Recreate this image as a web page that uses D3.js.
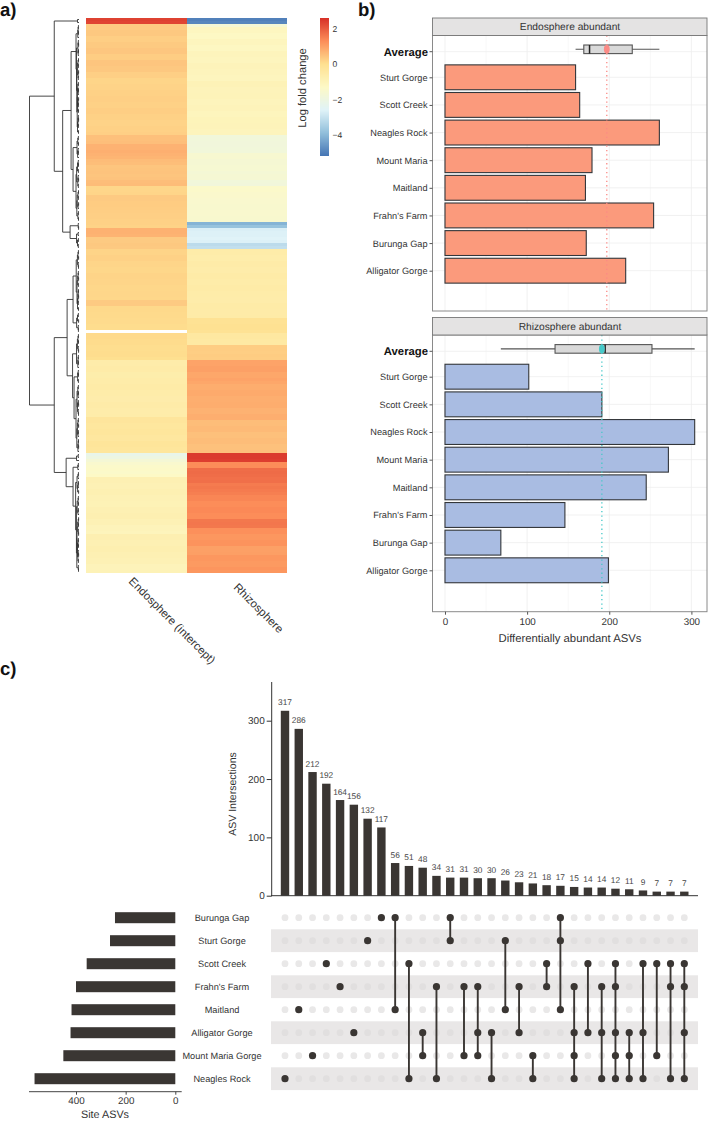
<!DOCTYPE html>
<html>
<head>
<meta charset="utf-8">
<script src="https://d3js.org/d3.v7.min.js"></script>
<style>
  body { margin: 0; background: #fff; }
  text { font-family: "Liberation Sans", Arial, sans-serif; fill: #333; text-rendering: geometricPrecision; }
</style>
</head>
<body>
<svg id="fig" width="709" height="1129"></svg>
<script>
// ---- panel a: heatmap rows, top to bottom
const heatColumns = ["Endosphere (intercept)", "Rhizosphere"];
const endoLfc = [2.35,2.3,
  .32,.32,.38,.38,.28,.28,.35,.35,.4,.4,.3,.3,.42,.42,.38,.38,.27,.27,
  .17,.17,.2,.2,.23,.23,.26,.26,.23,.23,.28,.28,.23,.23,.2,.2,.23,.23,.26,
  .5,.5,.53, .72,.72,.76,.72,.68, .56,.54, .42,.44,.45,.42,.45, .55,.57, .15,.15,.17,
  .34,.34,.32,.32,.3,.28,.26,.26,.23,.23,.21, .74,.74,.7, .34,.34,.38,.36,
  .19,.19,.23,.23,.17,.17,.14,.14,.19,.19,.17,.17,.14,.14,.15,.15,.14,.34,.34,.11,.11,.09,.09,.08,.08,.05,.05,
  null,
  .09,.09,.06,.06,.03,.03,.05,.05,0,
  -.62,-.62,-.58,-.58,-.66,-.66,-.6,-.6,-.55,-.55,-.6,-.6,-.64,-.64,-.58,-.58,-.62,-.62,-.6,
  -.28,-.28,-.34,-.34,-.3,-.3,-.36,-.36,-.24,-.24,-.3,-.3,
  -2.2,-2,-1.7, -1.5,-1.4,-1.35,-1.4,-1.3,
  -.85,-.85,-.9,-.9,-.82,-.82,-.88,-.88,-.92,-.92,-.85,-.85,-.8,-.8,-.9,-.9,-1,-1,-1.05,-.8,-.8,-.85,-.85,-.78,-.78,-.85,-.85,-.9,-.9,-1,-1,-.95];
const rhizoLfc = [-5,-4.9,
  -1.7,-1.15,-1.15,-1.25,-1.25,-1.1,-1.1,-1.2,-1.2,-1.05,-1.05,-1.1,-1.1,-1,-1,-1.05,-1.05,-1.1,-1.1,
  -.95,-.95,-1,-1,-.98,-.98,-1.05,-1.05,-1,-1,-1.08,-1.08,-1.02,-1.02,-1,-1,-1.05,-1.05,
  -1.82,-1.82,-1.85,-1.85,-1.82,-1.82, -1.55,-1.55, -1.65,-1.65,-1.62,-1.62,-1.7,-1.65,-1.65, -1.82,-1.85,
  -1.4,-1.4,-1.45,-1.45,-1.5,-1.5,-1.52,-1.52,-1.5,-1.5,-1.52,-1.52,
  -4.1,-3.8, -2.7,-2.65,-2.65,-2.6,-2.65, -3.2,-3.1,
  -.6,-.6,-.65,-.65,-.58,-.58,-.62,-.62,-.55,-.55,-.6,-.6,-.56,-.56,-.6,-.6,-.62,-.62,-.55,-.55,-.58,-.58,-.55,
  -.1,-.1,-.05,-.05,-.1, -.4,-.4,-.45,-.45, .3,.3,.28,.32,.3,
  .95,.95,1,1,.9,.9,.95,.9, .8,.8,.85,.85,.78,.78,.8,.8,.72,.72,.78,.78,
  .55,.55,.6,.6,.5,.5,.55,.55,.48,.48,.5,
  2.45,2.45,2.4, 1.3,1.3, 1.75,1.78,1.75,1.7,1.72, 1.55,1.6,1.55,1.5,
  1.4,1.4,1.3,1.3,1.35,1.35,1.3,1.3, 1.6,1.62,1.6, 1.25,1.25,1.15,1.15,1.2,1.2, 1,1,1.02, 1.15,1.15,1.1,1.1,1.18,1.15];
// merge height between each row and the next one, this fixes the whole dendrogram
const mergeHeights = [1.5,25,
  .6,.9,.5,1.2,3, .7,.4,1.1,.5,.8,2.5, .5,1,.6,1.4,.4,.9,.7,2.2,
  .6,1.2,.5,.8,1.6,.4,.9,.6,1.3,.5,1.8,.7,.4,1,.6,1.5,.5,8,
  .7,1.2,.5,2,.9,.6,1.4,6,
  .8,.5,1.5,.6,2.4,.9,.4,1.2,.7,3,.5,1,.6,1.8,.4,.9,2.2,.6,1.1,.5,16.5,
  .8,.4,9, .9,2.5,.6,1.5,.7,50,
  .6,1,.4,1.6,.8,.5,2.8,.7,.9,.4,1.3,.6,2,.5,.8,.4,1.1,.7,1.5,.5,6,
  .7,1.5,.4,2.4,.8,.6,12,
  .6,1,.5,1.6,.8,.4,2.5,.7,.9,.5,1.2,6.5,
  .8,.5,1.4,.6,5,
  .7,1.2,.5,.9,2,.6,.4,1.5,.8,.5,3,.7,1,.4,1.6,.6,.9,2.2,.5,.8,.4,1.1,25,
  .8,2.5,13, .7,1.2,6,
  .6,1,2,.5,.8,1.4,.4,3.4,.7,.9,.5,1.8,.6,1,2.6,.4,.8,.5,1.3,.7,.4,2,.6,.9,.5,1.5,.8,.4,1.1,.6,2.2,.7,.5];
const lfcTicks = [2, 0, -2, -4];

// ---- panel b: differentially abundant ASVs, Alligator Gorge at the bottom
const sites = ["Alligator Gorge", "Burunga Gap", "Frahn's Farm", "Maitland", "Mount Maria", "Neagles Rock", "Scott Creek", "Sturt Gorge"];
const endoCounts = [220, 172, 254, 171, 179, 261, 164, 159];
const rhizoCounts = [199, 68, 146, 245, 272, 304, 191, 102];
const endoBox = [159, 169, 176, 228, 261];   // whisker, q1, median, q3, whisker
const rhizoBox = [68, 134, 195, 252, 304];
const endoMean = 197, rhizoMean = 191;
const countTicks = [0, 100, 200, 300];

// ---- panel c: upset plot
const setNames = ["Burunga Gap", "Sturt Gorge", "Scott Creek", "Frahn's Farm", "Maitland", "Alligator Gorge", "Mount Maria Gorge", "Neagles Rock"];
const setSizes = [243, 263, 357, 400, 418, 422, 451, 567];
const intersectionSizes = [317,286,212,192,164,156,132,117,56,51,48,34,31,31,30,30,26,23,21,18,17,15,14,14,12,11,9,7,7,7];
const intersectionSets = [
  ["Neagles Rock"], ["Maitland"], ["Mount Maria Gorge"], ["Scott Creek"], ["Frahn's Farm"], ["Alligator Gorge"],
  ["Sturt Gorge"], ["Burunga Gap"], ["Burunga Gap","Maitland"], ["Scott Creek","Neagles Rock"],
  ["Alligator Gorge","Mount Maria Gorge"], ["Frahn's Farm","Neagles Rock"], ["Burunga Gap","Sturt Gorge"],
  ["Frahn's Farm","Mount Maria Gorge"], ["Frahn's Farm","Alligator Gorge","Mount Maria Gorge"],
  ["Alligator Gorge","Neagles Rock"], ["Sturt Gorge","Maitland"], ["Frahn's Farm","Alligator Gorge"],
  ["Mount Maria Gorge","Neagles Rock"], ["Scott Creek","Frahn's Farm"], ["Burunga Gap","Sturt Gorge","Maitland"],
  ["Frahn's Farm","Alligator Gorge","Mount Maria Gorge","Neagles Rock"], ["Scott Creek","Alligator Gorge"],
  ["Frahn's Farm","Alligator Gorge","Neagles Rock"],
  ["Scott Creek","Frahn's Farm","Alligator Gorge","Mount Maria Gorge","Neagles Rock"],
  ["Alligator Gorge","Mount Maria Gorge","Neagles Rock"], ["Scott Creek","Alligator Gorge","Neagles Rock"],
  ["Scott Creek","Mount Maria Gorge"], ["Scott Creek","Frahn's Farm","Neagles Rock"],
  ["Scott Creek","Frahn's Farm","Alligator Gorge","Neagles Rock"]
];

const svg = d3.select("#fig");
const dark = "#3a3633";

function panelLabel(txt, x, y) {
  svg.append("text").attr("x", x).attr("y", y).attr("font-size", 18.5).attr("font-weight", "bold")
    .style("fill", "#111").text(txt);
}
panelLabel("a)", 0, 16);
panelLabel("b)", 358, 16);
panelLabel("c)", 0, 675);

// ---------- a) heatmap
const rowIdx = d3.range(endoLfc.length);
const rowY = d3.scaleBand().domain(rowIdx).range([18, 573]);
const colX = d3.scaleBand().domain(heatColumns).range([86, 287]);
const lfcColor = d3.scaleLinear()
  .domain([-5.2, -3.9, -2.6, -1.3, 0, 1.3, 2.6])
  .range(["#4575B4", "#91BFDB", "#E0F3F8", "#FDF9C6", "#FEE090", "#FC8D59", "#D73027"]);

const heat = svg.append("g").attr("shape-rendering", "crispEdges");
[endoLfc, rhizoLfc].forEach((vals, c) => {
  heat.selectAll(null).data(rowIdx).join("rect")
    .attr("x", colX(heatColumns[c]))
    .attr("y", i => rowY(i))
    .attr("width", colX.bandwidth())
    .attr("height", rowY.bandwidth())
    .attr("fill", i => vals[i] === null ? "#fff" : lfcColor(vals[i]));
});

svg.selectAll(".heatlab").data(heatColumns).join("text")
  .attr("class", "heatlab")
  .attr("transform", (d, i) => `translate(${[128, 233][i]},${[582, 588][i]}) rotate(45)`)
  .attr("font-size", 11.5)
  .text(d => d);

// colour bar
const lfcY = d3.scaleLinear().domain([2.6, -5.2]).range([18, 156]);
svg.append("g").attr("shape-rendering", "crispEdges").selectAll("rect")
  .data(d3.range(18, 156))
  .join("rect")
  .attr("x", 319.5).attr("y", d => d).attr("width", 9).attr("height", 1.2)
  .attr("fill", d => lfcColor(lfcY.invert(d + 0.5)));
const lfcAxis = svg.append("g").attr("transform", "translate(328.5,0)")
  .call(d3.axisRight(lfcY).tickValues(lfcTicks).tickSize(0).tickPadding(4));
lfcAxis.select(".domain").remove();
lfcAxis.selectAll("text").attr("font-size", 8.5).style("font-family", '"Liberation Sans"');
svg.append("text").attr("transform", "translate(306,88) rotate(-90)")
  .attr("text-anchor", "middle").attr("font-size", 11.2).text("Log fold change");

// dendrogram, split every range of rows at its largest merge height
function buildTree(lo, hi) {
  if (lo === hi) return { row: lo, height: 0 };
  let cut = lo;
  for (let i = lo; i < hi; i++) if (mergeHeights[i] > mergeHeights[cut]) cut = i;
  return { height: mergeHeights[cut], children: [buildTree(lo, cut), buildTree(cut + 1, hi)] };
}
const tree = d3.hierarchy(buildTree(0, rowIdx.length - 1));
const treeX = d3.scaleLinear().domain([0, 50]).range([79, 29.5]);
tree.eachAfter(n => {
  n.py = n.children ? (n.children[0].py + n.children[1].py) / 2 : rowY(n.data.row) + rowY.bandwidth() / 2;
});
const treePath = d3.path();
tree.each(n => {
  if (!n.children) return;
  const x = treeX(n.data.height);
  const [a, b] = n.children;
  treePath.moveTo(treeX(a.data.height), a.py);
  treePath.lineTo(x, a.py);
  treePath.lineTo(x, b.py);
  treePath.lineTo(treeX(b.data.height), b.py);
});
svg.append("path").attr("d", treePath.toString()).attr("fill", "none")
  .attr("stroke", "#333").attr("stroke-width", 0.9);

// ---------- b) faceted bars
const countX = d3.scaleLinear().domain([-15.2, 319]).range([432.5, 707]);

function facet(o) {
  const g = svg.append("g");
  const y = d3.scaleLinear().domain([1, 8]).range([o.yFirst, o.yLast]);
  const barH = (o.yFirst - o.yLast) / 7 * 0.9;

  g.append("rect").attr("x", 432.5).attr("y", o.top).attr("width", 274.5).attr("height", o.bottom - o.top).attr("fill", "#fff");

  // grid
  g.selectAll(".minor").data([50, 150, 250]).join("line").attr("class", "minor")
    .attr("x1", d => countX(d)).attr("x2", d => countX(d)).attr("y1", o.top).attr("y2", o.bottom)
    .attr("stroke", "#f5f5f5").attr("stroke-width", 0.7);
  g.selectAll(".major").data(countTicks).join("line").attr("class", "major")
    .attr("x1", d => countX(d)).attr("x2", d => countX(d)).attr("y1", o.top).attr("y2", o.bottom)
    .attr("stroke", "#eeeeee").attr("stroke-width", 0.8);
  g.selectAll(".hgrid").data(sites.concat("Average")).join("line").attr("class", "hgrid")
    .attr("x1", 432.5).attr("x2", 707)
    .attr("y1", (d, i) => i < 8 ? y(i + 1) : o.yAvg)
    .attr("y2", (d, i) => i < 8 ? y(i + 1) : o.yAvg)
    .attr("stroke", "#eeeeee").attr("stroke-width", 0.8);

  // bars
  g.selectAll(".bar").data(o.counts).join("rect").attr("class", "bar")
    .attr("x", countX(0))
    .attr("y", (d, i) => y(i + 1) - barH / 2)
    .attr("width", d => countX(d) - countX(0))
    .attr("height", barH)
    .attr("fill", o.fill).attr("stroke", "#33363a").attr("stroke-width", 1.1);

  // boxplot of the sites
  const by = o.yAvg - 2.4, bh = 8.6, b = o.box;
  g.append("line").attr("x1", countX(b[0])).attr("x2", countX(b[4])).attr("y1", by).attr("y2", by)
    .attr("stroke", "#555").attr("stroke-width", 1.1);
  g.append("rect").attr("x", countX(b[1])).attr("y", by - bh / 2)
    .attr("width", countX(b[3]) - countX(b[1])).attr("height", bh)
    .attr("fill", "#d9d9d9").attr("stroke", "#555").attr("stroke-width", 1.1);
  g.append("line").attr("x1", countX(b[2])).attr("x2", countX(b[2])).attr("y1", by - bh / 2).attr("y2", by + bh / 2)
    .attr("stroke", "#222").attr("stroke-width", 1.5);

  // mean
  g.append("line").attr("x1", countX(o.mean)).attr("x2", countX(o.mean)).attr("y1", o.top).attr("y2", o.bottom)
    .attr("stroke", o.meanColor).attr("stroke-width", 1.3).attr("stroke-dasharray", "1.3 3.1");
  g.append("ellipse").attr("cx", countX(o.mean)).attr("cy", by).attr("rx", 2.9).attr("ry", 4.2)
    .attr("fill", o.meanColor);

  // frame and strip
  g.append("rect").attr("x", 432.5).attr("y", o.top).attr("width", 274.5).attr("height", o.bottom - o.top)
    .attr("fill", "none").attr("stroke", "#8a8a8a").attr("stroke-width", 1);
  g.append("rect").attr("x", 432.5).attr("y", o.top - 17.5).attr("width", 274.5).attr("height", 17.5)
    .attr("fill", "#e4e3e3").attr("stroke", "#777").attr("stroke-width", 0.9);
  g.append("text").attr("x", 570).attr("y", o.top - 5.3).attr("text-anchor", "middle")
    .attr("font-size", 10.2).text(o.title);

  // site labels
  const yAxis = g.append("g").attr("transform", "translate(432.5,0)")
    .call(d3.axisLeft(y).tickValues(d3.range(1, 9)).tickFormat(d => sites[d - 1]).tickSize(3).tickPadding(2));
  yAxis.select(".domain").remove();
  yAxis.selectAll("text").attr("font-size", 9.2).style("font-family", '"Liberation Sans"').style("fill", "#333");
  yAxis.selectAll("line").attr("stroke", "#555");
  g.append("line").attr("x1", 429.5).attr("x2", 432.5).attr("y1", o.yAvg).attr("y2", o.yAvg).attr("stroke", "#555");
  g.append("text").attr("x", 428).attr("y", o.yAvg).attr("dy", "0.34em").attr("text-anchor", "end")
    .attr("font-size", 11.3).attr("font-weight", "bold").style("fill", "#111").text("Average");
}

facet({ title: "Endosphere abundant", top: 35.5, bottom: 311, yFirst: 270.7, yLast: 77.3, yAvg: 51.7,
  counts: endoCounts, box: endoBox, mean: endoMean, fill: "#fb9a7c", meanColor: "#fb8a85" });
facet({ title: "Rhizosphere abundant", top: 335, bottom: 611.7, yFirst: 570.3, yLast: 376.7, yAvg: 351.3,
  counts: rhizoCounts, box: rhizoBox, mean: rhizoMean, fill: "#a9bce2", meanColor: "#45c9c9" });

const countAxis = svg.append("g").attr("transform", "translate(0,611.7)")
  .call(d3.axisBottom(countX).tickValues(countTicks).tickSize(3).tickPadding(3));
countAxis.select(".domain").remove();
countAxis.selectAll("text").attr("font-size", 9.8).style("font-family", '"Liberation Sans"');
countAxis.selectAll("line").attr("stroke", "#555");
svg.append("text").attr("x", 570).attr("y", 642).attr("text-anchor", "middle")
  .attr("font-size", 11.3).text("Differentially abundant ASVs");

// ---------- c) upset
const colIdx = d3.range(intersectionSizes.length);
const upX = d3.scalePoint().domain(colIdx).range([285, 684.3]);
const upY = d3.scaleLinear().domain([0, 300]).range([895.7, 720.7]);
const setY = d3.scalePoint().domain(setNames).range([917.7, 1078.7]);

svg.append("g").selectAll("rect").data(intersectionSizes).join("rect")
  .attr("x", (d, i) => upX(i) - 4.2)
  .attr("y", d => upY(d))
  .attr("width", 8.4)
  .attr("height", d => upY(0) - upY(d))
  .attr("fill", dark);
svg.append("g").selectAll("text").data(intersectionSizes).join("text")
  .attr("x", (d, i) => upX(i))
  .attr("y", d => upY(d) - 5.5)
  .attr("text-anchor", "middle").attr("font-size", 8.3).style("fill", "#444")
  .text(d => d);

const upAxis = svg.append("g").attr("transform", "translate(271.7,0)")
  .call(d3.axisLeft(upY).tickValues([0, 100, 200, 300]).tickSize(5).tickPadding(2));
upAxis.select(".domain").remove();
upAxis.selectAll("text").attr("font-size", 10).style("font-family", '"Liberation Sans"');
upAxis.selectAll("line").attr("stroke", "#333");
svg.append("line").attr("x1", 271.7).attr("x2", 271.7).attr("y1", 682).attr("y2", 896).attr("stroke", "#333").attr("stroke-width", 1);
svg.append("line").attr("x1", 271).attr("x2", 698).attr("y1", 895.7).attr("y2", 895.7).attr("stroke", "#333").attr("stroke-width", 1);
svg.append("text").attr("transform", "translate(236,794) rotate(-90)")
  .attr("text-anchor", "middle").attr("font-size", 10.5).text("ASV Intersections");

// stripes
svg.append("g").selectAll("rect").data(setNames.filter((d, i) => i % 2 === 1)).join("rect")
  .attr("x", 271).attr("y", d => setY(d) - 11.4).attr("width", 427).attr("height", 22.8)
  .attr("fill", "#e9e7e7");

// empty dots
setNames.forEach(name => {
  svg.append("g").selectAll("circle").data(colIdx).join("circle")
    .attr("cx", i => upX(i)).attr("cy", setY(name)).attr("r", 3.4)
    .attr("fill", setNames.indexOf(name) % 2 ? "#e1dfdf" : "#e9e8e8");
});
// linked dots
intersectionSets.forEach((members, i) => {
  const g = svg.append("g");
  if (members.length > 1) {
    const ext = d3.extent(members, m => setY(m));
    g.append("line").attr("x1", upX(i)).attr("x2", upX(i)).attr("y1", ext[0]).attr("y2", ext[1])
      .attr("stroke", dark).attr("stroke-width", 1.9);
  }
  g.selectAll("circle").data(members).join("circle")
    .attr("cx", upX(i)).attr("cy", d => setY(d)).attr("r", 3.6).attr("fill", dark);
});

svg.selectAll(".setlab").data(setNames).join("text").attr("class", "setlab")
  .attr("x", 222).attr("y", d => setY(d)).attr("dy", "0.34em").attr("text-anchor", "middle")
  .attr("font-size", 9.2).text(d => d);

const sizeX = d3.scaleLinear().domain([0, 400]).range([175.3, 76]);
svg.append("g").selectAll("rect").data(setSizes).join("rect")
  .attr("x", d => sizeX(d))
  .attr("y", (d, i) => setY(setNames[i]) - 5.5)
  .attr("width", d => sizeX(0) - sizeX(d))
  .attr("height", 11)
  .attr("fill", dark);
svg.append("line").attr("x1", 29).attr("x2", 181.7).attr("y1", 1091.7).attr("y2", 1091.7).attr("stroke", "#444");
const sizeAxis = svg.append("g").attr("transform", "translate(0,1091.7)")
  .call(d3.axisBottom(sizeX).tickValues([0, 200, 400]).tickSize(3).tickPadding(2));
sizeAxis.select(".domain").remove();
sizeAxis.selectAll("text").attr("font-size", 9.8).style("font-family", '"Liberation Sans"');
sizeAxis.selectAll("line").attr("stroke", "#444");
svg.append("text").attr("x", 105).attr("y", 1118).attr("text-anchor", "middle").attr("font-size", 10.8).text("Site ASVs");
</script>
</body>
</html>
